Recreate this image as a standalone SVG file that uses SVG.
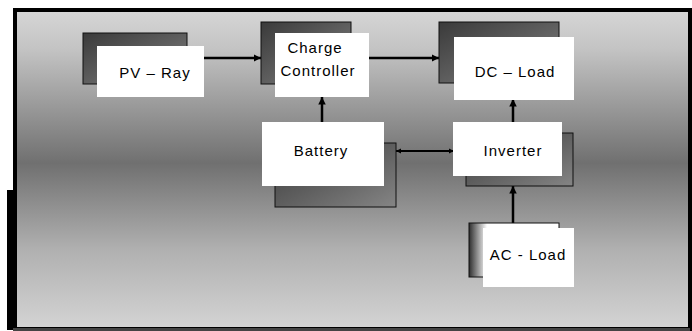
<svg xmlns="http://www.w3.org/2000/svg" width="692" height="331" viewBox="0 0 692 331">
  <defs>
    <linearGradient id="bg" x1="0" y1="0" x2="0" y2="1">
      <stop offset="0" stop-color="#d6d6d6"/>
      <stop offset="0.12" stop-color="#c4c4c4"/>
      <stop offset="0.48" stop-color="#707070"/>
      <stop offset="0.75" stop-color="#b0b0b0"/>
      <stop offset="1" stop-color="#d4d4d4"/>
    </linearGradient>
    <linearGradient id="shade" x1="0" y1="0" x2="1" y2="1">
      <stop offset="0" stop-color="#3a3a3a"/>
      <stop offset="0.5" stop-color="#5e5e5e"/>
      <stop offset="1" stop-color="#858585"/>
    </linearGradient>
    <linearGradient id="shadeAC" x1="0" y1="0" x2="1" y2="0">
      <stop offset="0" stop-color="#2e2e2e"/>
      <stop offset="0.2" stop-color="#ffffff"/>
      <stop offset="1" stop-color="#ffffff"/>
    </linearGradient>
    <marker id="ah" viewBox="0 0 10 10" refX="10" refY="5" markerWidth="3" markerHeight="3" orient="auto-start-reverse">
      <path d="M0,0 L10,5 L0,10 Z" fill="#000"/>
    </marker>
    <style>
      .shadow { fill: url(#shade); stroke: #111; stroke-width: 1; }
      .box { fill: #ffffff; }
      .lbl { font-family: "Liberation Sans", Arial, sans-serif; font-size: 15px; letter-spacing: 1px; fill: #000; text-anchor: middle; }
      .conn { stroke: #000; stroke-width: 2.5; fill: none; }
    </style>
  </defs>

  <rect x="0" y="0" width="692" height="331" fill="#ffffff"/>
  <g id="frame">
    <rect x="15" y="10" width="675" height="319" fill="url(#bg)" stroke="#000" stroke-width="4"/>
    <rect x="7" y="190" width="7" height="140" fill="#000"/>
    <rect x="13" y="328" width="677" height="3" fill="#444"/>
  </g>

  <g id="connectors">
    <line class="conn" x1="204" y1="58" x2="261" y2="58" marker-end="url(#ah)"/>
    <line class="conn" x1="366" y1="58" x2="439" y2="58" marker-end="url(#ah)"/>
    <line class="conn" x1="322" y1="122" x2="322" y2="97" marker-end="url(#ah)"/>
    <line class="conn" x1="513" y1="122" x2="513" y2="99" marker-end="url(#ah)"/>
    <line class="conn" x1="513" y1="223" x2="513" y2="186" marker-end="url(#ah)"/>
    <line class="conn" style="stroke-width:1.8" x1="396" y1="151" x2="454" y2="151" marker-start="url(#ah)" marker-end="url(#ah)"/>
  </g>

  <g id="pv-ray">
    <rect class="shadow" x="83" y="33" width="104" height="51"/>
    <rect class="box" x="97" y="46" width="107" height="51"/>
    <text class="lbl" x="155" y="78">PV – Ray</text>
  </g>

  <g id="charge-controller">
    <rect class="shadow" x="261" y="22" width="90" height="62"/>
    <rect class="box" x="275" y="33" width="94" height="64"/>
    <text class="lbl" x="315" y="53">Charge</text>
    <text class="lbl" x="318" y="76">Controller</text>
  </g>

  <g id="dc-load">
    <rect class="shadow" x="439" y="22" width="120" height="61"/>
    <rect class="box" x="454" y="37" width="120" height="63"/>
    <text class="lbl" x="515" y="77">DC – Load</text>
  </g>

  <g id="battery">
    <rect class="shadow" x="275" y="143" width="121" height="64"/>
    <rect class="box" x="262" y="122" width="122" height="64"/>
    <text class="lbl" x="321" y="156">Battery</text>
  </g>

  <g id="inverter">
    <rect class="shadow" x="466" y="133" width="107" height="53"/>
    <rect class="box" x="453" y="122" width="109" height="54"/>
    <text class="lbl" x="513" y="156">Inverter</text>
  </g>

  <g id="ac-load">
    <rect x="469" y="223" width="90" height="54" fill="url(#shadeAC)" stroke="#111" stroke-width="1"/>
    <rect class="box" x="483" y="228" width="91" height="59"/>
    <text class="lbl" x="528" y="260">AC - Load</text>
  </g>
</svg>
